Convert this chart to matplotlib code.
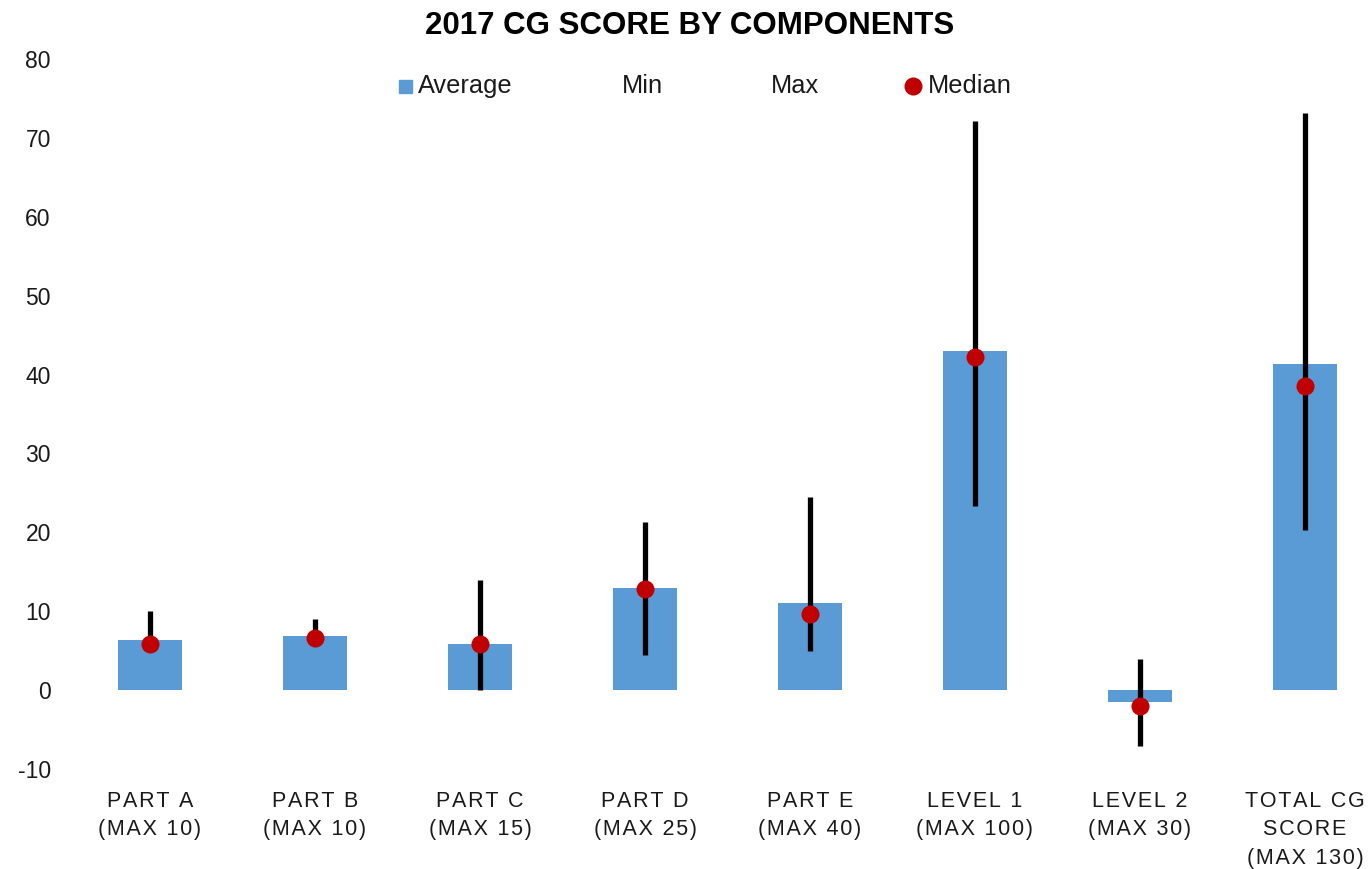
import matplotlib
matplotlib.use("Agg")
import matplotlib.pyplot as plt
from matplotlib.patches import Rectangle
from matplotlib.lines import Line2D

plt.rcParams['font.family'] = ['Liberation Sans', 'DejaVu Sans']

categories = ["PART A\n(MAX 10)", "PART B\n(MAX 10)", "PART C\n(MAX 15)", "PART D\n(MAX 25)",
              "PART E\n(MAX 40)", "LEVEL 1\n(MAX 100)", "LEVEL 2\n(MAX 30)",
              "TOTAL CG\nSCORE\n(MAX 130)"]
average = [6.3, 6.8, 5.9, 13.0, 11.0, 43.0, -1.5, 41.3]
minimum = [5.5, 6.0, 0.0, 4.5, 4.9, 23.4, -7.1, 20.3]
maximum = [10.0, 9.0, 14.0, 21.3, 24.5, 72.2, 4.0, 73.1]
median = [5.9, 6.6, 5.9, 12.8, 9.7, 42.2, -2.0, 38.6]
yticks = [-10, 0, 10, 20, 30, 40, 50, 60, 70, 80]

BLUE = '#5B9BD5'
RED = '#C00000'
TXT = '#1a1a1a'
W, H = 1368, 869


def spaced(s):
    return "\n".join("\u200a".join(list(line)) for line in s.split("\n"))


fig = plt.figure(figsize=(W / 100, H / 100), dpi=100)
left = 67.5 / W
bottom = (H - 769) / H
top = (H - 59) / H
ax = fig.add_axes([left, bottom, 1 - left, top - bottom])

x = list(range(len(categories)))
ax.bar(x, average, width=0.39, color=BLUE, zorder=1)
ax.vlines(x, minimum, maximum, color='black', linewidth=3.8, zorder=2)
ax.plot(x, median, 'o', color=RED, markersize=13, zorder=3, markeredgewidth=0)

ax.set_ylim(-10, 80)
ax.set_xlim(-0.5, 7.5 - 19.5 / 165)
ax.set_yticks(yticks)
ax.set_yticklabels([str(v) for v in yticks], fontsize=16.5, color=TXT)
ax.set_xticks(x)
ax.set_xticklabels([spaced(c) for c in categories], fontsize=15.5, color=TXT, linespacing=1.45,
                   va='top')
ax.tick_params(axis='both', length=0)
ax.tick_params(axis='y', pad=12)
ax.tick_params(axis='x', pad=16)
for s in ax.spines.values():
    s.set_visible(False)

fig.text(690 / W, 1 - 26 / H, "2017 CG SCORE BY COMPONENTS", ha='center', va='center',
         fontsize=22.5, fontweight='bold', color='black')

# legend
ly = 1 - 86 / H
fig.add_artist(Rectangle((399 / W, ly - 6.5 / H), 13 / W, 13 / H, color=BLUE,
                         transform=fig.transFigure))
fig.add_artist(Line2D([913 / W], [ly], marker='o', color=RED, markersize=13,
                      markeredgewidth=0, transform=fig.transFigure))
for tx, lab in [(418, "Average"), (622, "Min"), (771, "Max"), (928, "Median")]:
    fig.text(tx / W, ly, lab, ha='left', va='center', fontsize=18.3, color=TXT)

fig.savefig("out.png", dpi=100)
